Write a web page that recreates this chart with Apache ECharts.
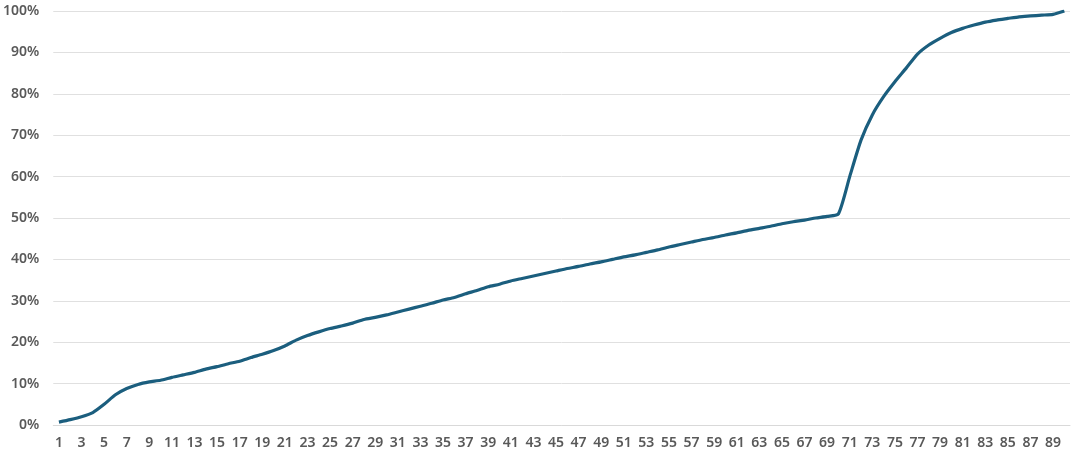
<!DOCTYPE html>
<html><head><meta charset="utf-8">
<script src="https://cdn.jsdelivr.net/npm/echarts@6/dist/echarts.min.js"></script>
<style>html,body{margin:0;padding:0;background:#fff}#c{width:1080px;height:456px}</style>
</head><body><div id="c"></div>
<script>
const categories = [];
for (let i = 1; i <= 90; i++) categories.push(String(i));
const values = [
  0.7, 1.3, 2.0, 3.0, 5.0, 7.3, 8.8, 9.8, 10.4, 10.8,
  11.5, 12.1, 12.7, 13.5, 14.1, 14.8, 15.4, 16.3, 17.1, 18.0,
  19.1, 20.5, 21.6, 22.5, 23.3, 23.9, 24.6, 25.5, 26.0, 26.6,
  27.3, 28.0, 28.7, 29.4, 30.2, 30.8, 31.7, 32.5, 33.4, 34.0,
  34.8, 35.4, 36.0, 36.6, 37.2, 37.8, 38.3, 38.9, 39.4, 40.0,
  40.6, 41.1, 41.7, 42.3, 43.0, 43.6, 44.2, 44.8, 45.3, 45.9,
  46.4, 47.0, 47.5, 48.0, 48.6, 49.1, 49.5, 50.0, 50.4, 51.0,
  60.0, 68.8, 74.9, 79.3, 82.9, 86.2, 89.6, 91.8, 93.4, 94.8,
  95.8, 96.6, 97.3, 97.8, 98.2, 98.6, 98.8, 99.0, 99.2, 100.0
];
const yTicks = [0, 10, 20, 30, 40, 50, 60, 70, 80, 90, 100];

const chart = echarts.init(document.getElementById('c'));
chart.setOption({
  animation: false,
  grid: { left: 53, right: 10, top: 11, bottom: 31, containLabel: false },
  xAxis: {
    type: 'category',
    data: categories,
    boundaryGap: true,
    axisLine: { show: true, lineStyle: { color: '#d9d9d9', width: 1 } },
    axisTick: { show: false },
    axisLabel: {
      interval: 1, color: '#595959', fontSize: 14, fontWeight: 600,
      fontFamily: 'Noto Sans', margin: 11
    }
  },
  yAxis: {
    type: 'value',
    min: yTicks[0], max: yTicks[yTicks.length - 1], interval: 10,
    axisLine: { show: false },
    axisTick: { show: false },
    splitLine: { lineStyle: { color: '#e0e0e0', width: 1 } },
    axisLabel: {
      formatter: v => v + '%', color: '#595959', fontSize: 14, fontWeight: 600,
      fontFamily: 'Noto Sans', margin: 14
    }
  },
  series: [{
    type: 'line',
    data: values,
    smooth: 0.2,
    symbol: 'none',
    lineStyle: { color: '#1b5e7e', width: 3.2 }
  }]
});
</script></body></html>
